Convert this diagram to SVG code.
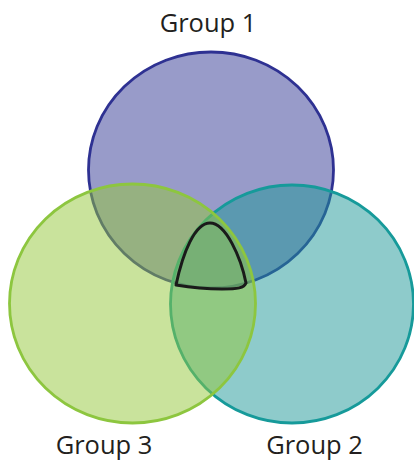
<svg xmlns="http://www.w3.org/2000/svg" width="414" height="464" viewBox="0 0 414 464">
<style>
.lbl{font-family:"Open Sans","Noto Sans",sans-serif;font-size:25.5px;fill:#231f20;text-anchor:middle}
.c{stroke-width:2.8}
</style>
<rect width="414" height="464" fill="#ffffff"/>
<g id="group1">
<ellipse class="c" cx="211" cy="170" rx="122.5" ry="118" fill="#989bc9" stroke="#2e3192"/>
<text class="lbl" x="208" y="32">Group 1</text>
</g>
<g id="group2">
<ellipse class="c" cx="292" cy="304" rx="121.5" ry="119" fill="#1d9797" fill-opacity="0.5" stroke="#169a9a"/>
<text class="lbl" x="314.5" y="454">Group 2</text>
</g>
<g id="group3">
<ellipse class="c" cx="132.5" cy="303.5" rx="123" ry="119.5" fill="#93c739" fill-opacity="0.5" stroke="#8dc63f"/>
<text class="lbl" x="104" y="454">Group 3</text>
</g>
<g id="intersection">
<path d="M176,285 C183,252 195,223 210,223 C226,223 241,258 246,283 C244,288 238,289 222,289 C205,289 188,287 176,285 Z" fill="none" stroke="#1a1a1a" stroke-width="3" stroke-linejoin="round"/>
</g>
</svg>
